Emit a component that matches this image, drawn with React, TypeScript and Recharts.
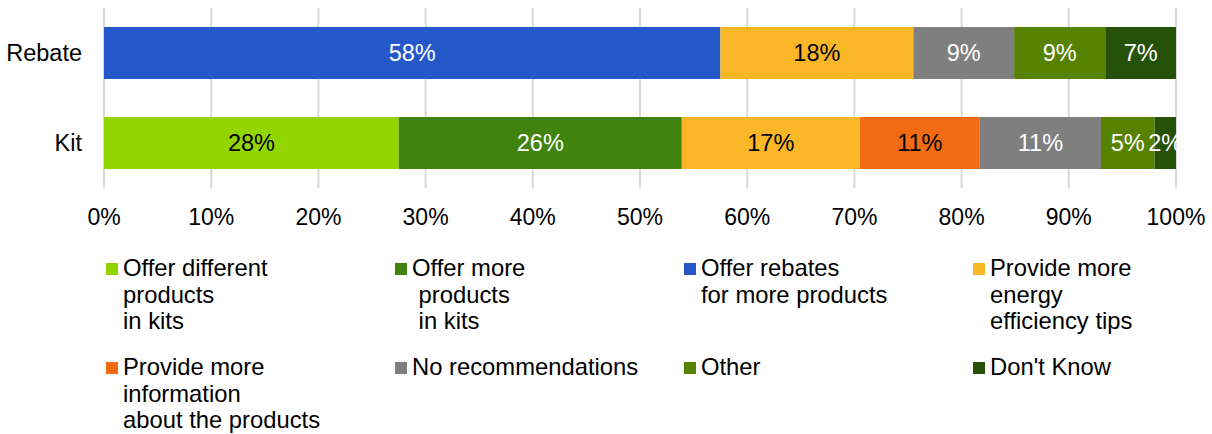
import React from 'react';
import { BarChart, Bar, XAxis, YAxis, CartesianGrid, LabelList } from 'recharts';

const categories = ['Rebate', 'Kit'];

const seriesNames = [
  'Offer different products in kits',
  'Offer more products in kits',
  'Offer rebates for more products',
  'Provide more energy efficiency tips',
  'Provide more information about the products',
  'No recommendations',
  'Other',
  "Don't Know",
];

const legendLabels = [
  'Offer different\nproducts\nin kits',
  'Offer more\n products\n in kits',
  'Offer rebates\nfor more products',
  'Provide more\nenergy\nefficiency tips',
  'Provide more\ninformation\nabout the products',
  'No recommendations',
  'Other',
  "Don't Know",
];

const seriesColors = ['#93d500', '#40840f', '#2457c8', '#f9b626', '#f06b14', '#7f7f7f', '#578200', '#255208'];
const labelColors = ['#000000', '#ffffff', '#ffffff', '#000000', '#000000', '#ffffff', '#ffffff', '#ffffff'];

// values per series, in the order of categories [Rebate, Kit]
const offerDifferent = [0, 27.5];
const offerMore = [0, 26.4];
const offerRebates = [57.5, 0];
const energyTips = [18.0, 16.6];
const moreInfo = [0, 11.2];
const noRecommendations = [9.4, 11.3];
const other = [8.5, 5.0];
const dontKnow = [6.6, 2.0];

const seriesValues = [offerDifferent, offerMore, offerRebates, energyTips, moreInfo, noRecommendations, other, dontKnow];

const xTicks = [0, 10, 20, 30, 40, 50, 60, 70, 80, 90, 100];

const data = categories.map((c, i) => {
  const row: Record<string, any> = { category: c };
  seriesValues.forEach((vals, s) => {
    row['s' + s] = vals[i];
  });
  return row;
});

const FONT = '"Liberation Sans", Arial, sans-serif';

export default function App() {
  return (
    <div style={{ position: 'absolute', left: 0, top: 0, width: 1212, height: 434, background: '#fff', fontFamily: FONT }}>
      <BarChart
        width={1212}
        height={250}
        data={data}
        layout="vertical"
        margin={{ top: 8, right: 36, left: 0, bottom: 0 }}
        barSize={52}
      >
        <CartesianGrid horizontal={false} vertical={true} stroke="#d9d9d9" strokeWidth={2} />
        <XAxis
          type="number"
          domain={[0, 100]}
          ticks={xTicks}
          tickFormatter={(v: number) => v + '%'}
          axisLine={false}
          tickLine={false}
          tickMargin={15}
          height={62}
          interval={0}
          tick={{ fill: '#000', fontSize: 23, fontFamily: FONT }}
        />
        <YAxis
          type="category"
          dataKey="category"
          width={104}
          axisLine={false}
          tickLine={false}
          tickMargin={16}
          tick={{ fill: '#000', fontSize: 23.5, fontFamily: FONT }}
        />
        {seriesNames.map((name, s) => (
          <Bar key={name} dataKey={'s' + s} name={name} stackId="a" fill={seriesColors[s]} isAnimationActive={false}>
            <LabelList
              dataKey={'s' + s}
              position="center"
              formatter={(v: any) => (v > 0 ? Math.round(v) + '%' : '')}
              fill={labelColors[s]}
              style={{ fontSize: 23.5, fontFamily: FONT }}
            />
          </Bar>
        ))}
      </BarChart>
      {legendLabels.map((label, i) => {
        const col = i % 4;
        const row = Math.floor(i / 4);
        const left = 106 + col * 289;
        const top = row === 0 ? 255 : 354;
        return (
          <div key={i} style={{ position: 'absolute', left, top }}>
            <div style={{ position: 'absolute', left: 0, top: 8, width: 12, height: 12, background: seriesColors[i] }} />
            <div
              style={{
                position: 'absolute',
                left: 17,
                top: 0,
                whiteSpace: 'pre',
                fontSize: 23.8,
                lineHeight: '26.5px',
                color: '#000',
                fontFamily: FONT,
              }}
            >
              {label}
            </div>
          </div>
        );
      })}
    </div>
  );
}
